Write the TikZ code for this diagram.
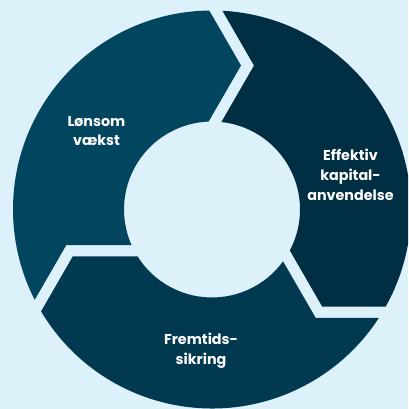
\documentclass[tikz,border=0pt]{standalone}
\usepackage{fontspec}
\setmainfont{Poppins}
\definecolor{bgblue}{RGB}{220,241,250}
\definecolor{lonsomblue}{RGB}{2,69,95}
\definecolor{kapitalblue}{RGB}{0,46,66}
\definecolor{fremtidblue}{RGB}{1,58,80}

\tikzset{
  label/.style={text=white, font=\bfseries\fontsize{14.3}{19.8}\selectfont, align=center}
}

\begin{document}
\begin{tikzpicture}[x=1pt, y=1pt]
      % Baggrund
      \useasboundingbox (0,0) rectangle (408,409);
      \clip (0,0) rectangle (408,409);
      \fill[bgblue] (0,0) rectangle (408,409);
      \coordinate (c) at (212,199.5);
      % Ringens tre dele, hver med pil ind i den naeste
      \foreach \b/\col in {90/lonsomblue, -30/kapitalblue, -150/fremtidblue} {
        \fill[\col, shift={(c)}]
          ({\b+0.79}:199) arc[start angle={\b+0.79}, end angle={\b+117}, radius=199]
          -- ({\b+103.74}:150) -- ({\b+113.87}:88)
          arc[start angle={\b+113.87}, end angle={\b+2.2}, radius=88]
          -- ({\b-11.39}:146.9) -- cycle;
      }
      % Tekster
      \node[label] (vaekst) at (96.5,278) {Lønsom\\vækst};
      \node[label] (kapital) at (350.5,234) {Effektiv\\kapital-\\anvendelse};
      \node[label] (fremtid) at (201,58) {Fremtids-\\sikring};
\end{tikzpicture}
\end{document}
